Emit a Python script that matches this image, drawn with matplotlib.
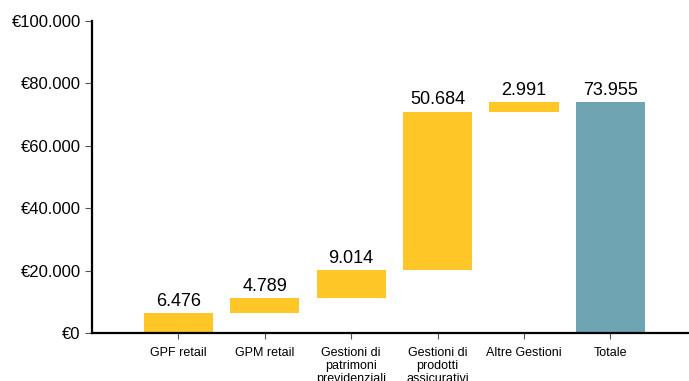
import numpy as np
import matplotlib.pyplot as plt
from matplotlib.ticker import FuncFormatter

plt.rcParams['font.family'] = ['Liberation Sans', 'DejaVu Sans']

categories = ['GPF retail', 'GPM retail', 'Gestioni di\npatrimoni\nprevidenziali',
              'Gestioni di\nprodotti\nassicurativi', 'Altre Gestioni', 'Totale']
steps = [6476, 4789, 9014, 50684, 2991]
total = 73955

yellow = '#FFC627'
teal = '#6FA5B2'

bottoms = np.concatenate([[0], np.cumsum(steps)[:-1]])
heights = steps + [total]
bases = list(bottoms) + [0]
colors = [yellow] * len(steps) + [teal]


def fmt_it(v):
    return f"{v:,.0f}".replace(',', '.')


fig = plt.figure(figsize=(6.89, 3.81), dpi=100)
ax = fig.add_axes([0.1335, 0.126, 0.8665, 0.819])

x = np.arange(len(categories))
ax.bar(x, heights, bottom=bases, width=0.8, color=colors)
for xi, b, h in zip(x, bases, heights):
    ax.text(xi, b + h + 1000, fmt_it(h), ha='center', va='bottom', fontsize=13)

ax.set_xlim(-1, 5.91)
ax.set_ylim(0, 100000)
ax.set_yticks(np.arange(0, 100001, 20000))
ax.yaxis.set_major_formatter(FuncFormatter(lambda v, p: '€' + fmt_it(v)))
ax.set_xticks(x)
ax.set_xticklabels(categories, fontsize=9, linespacing=1.1)

for s in ['top', 'right']:
    ax.spines[s].set_visible(False)
for s in ['left', 'bottom']:
    ax.spines[s].set_linewidth(1.6)
ax.tick_params(axis='y', labelsize=12, length=5, width=0.8, color='#555555', pad=3)
ax.tick_params(axis='x', length=4, width=0.8, color='#555555', pad=6)

fig.savefig('out.png', dpi=100)
